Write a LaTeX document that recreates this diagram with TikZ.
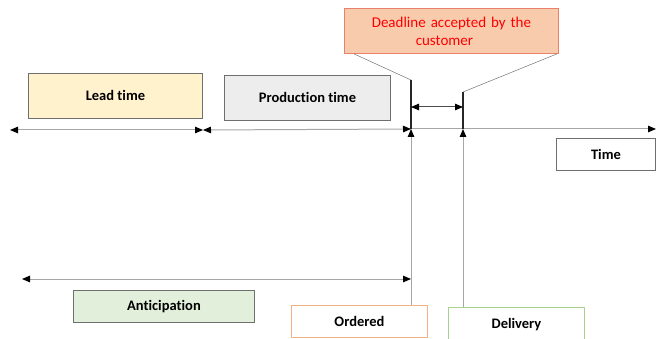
\documentclass[tikz,border=0pt]{standalone}
\usepackage{fontspec}
\setmainfont{Carlito}[Ligatures=NoCommon]
\usetikzlibrary{arrows.meta}
\definecolor{leadfill}{HTML}{FFF2CC}
\definecolor{prodfill}{HTML}{EDEDED}
\definecolor{antfill}{HTML}{E2EFDA}
\definecolor{deadfill}{HTML}{F8CBAD}
\definecolor{deadedge}{HTML}{E8826A}
\definecolor{ordedge}{HTML}{F4B183}
\definecolor{deledge}{HTML}{A9D18E}
\definecolor{boxedge}{HTML}{6F6F6F}
\definecolor{axisgray}{HTML}{A6A6A6}
\tikzset{
  label box/.style={draw=boxedge, line width=0.9pt, minimum height=#1, anchor=north west, inner sep=0pt, font=\bfseries\fontsize{14.5}{17}\selectfont},
  blacktip/.tip={Triangle[length=8pt,width=6.5pt,color=black]},
  span/.style={draw=axisgray, line width=1pt, blacktip-blacktip},
  riser/.style={draw=axisgray, line width=1pt, -blacktip},
  marker/.style={draw=black!85, line width=1.6pt},
  callout/.style={draw=black!55, line width=0.5pt},
}
\begin{document}
\begin{tikzpicture}[x=1pt,y=-1pt]
\useasboundingbox (0,0) rectangle (656,339);

% phase boxes
\node[label box=45pt, fill=leadfill, minimum width=174pt] (lead) at (28,73) {Lead time};
\node[label box=45pt, fill=prodfill, minimum width=166pt] (prod) at (224,75) {Production time};
\node[label box=32pt, fill=antfill, minimum width=181pt] (antic) at (73,290) {Anticipation};
\node[label box=32pt, fill=white, draw=ordedge, minimum width=136pt] (ord) at (291,305) {Ordered};
\node[label box=34pt, fill=white, draw=deledge, minimum width=136pt] (deliv) at (448,307) {\raisebox{-4pt}{Delivery}};
\node[label box=32pt, fill=white, minimum width=99pt] (timebox) at (556,138) {Time};
\node[label box=45pt, fill=deadfill, draw=deadedge, minimum width=214pt, font=\fontsize{15}{18}\selectfont, text=red, align=center, text width=200pt] (dead) at (344,8) {Deadline accepted by the\hspace*{14pt}\\customer\hspace*{14pt}};

% reference points on the time line
\coordinate (start) at (10,130);
\coordinate (split) at (203,130);
\coordinate (order) at (411,129);
\coordinate (deliver) at (463,129);
\coordinate (axisend) at (656,129);
\coordinate (ordtop) at (411,80);
\coordinate (deltop) at (463,92);
\coordinate (antstart) at (22,279);
\coordinate (antend) at (411,279);
\coordinate (winleft) at (411,107);
\coordinate (winright) at (463,107);

% time axis and phase spans
\draw[riser] (order) -- (axisend);
\draw[span] (start) -- (split);
\draw[span] (split) -- (order);
\draw[span] (antstart) -- (antend);

% events rising to the time line
\draw[riser] (ord.north -| order) -- (order);
\draw[riser] (deliv.north -| deliver) -- (deliver);

% accepted deadline window
\draw[marker] (ordtop) -- (order);
\draw[marker] (deltop) -- (deliver);
\draw[draw=black!70, line width=1pt, blacktip-blacktip] (winleft) -- (winright);
\draw[callout] ([xshift=10pt]dead.south west) -- (ordtop);
\draw[callout] ([xshift=-2pt]dead.south east) -- (deltop);
\end{tikzpicture}
\end{document}
